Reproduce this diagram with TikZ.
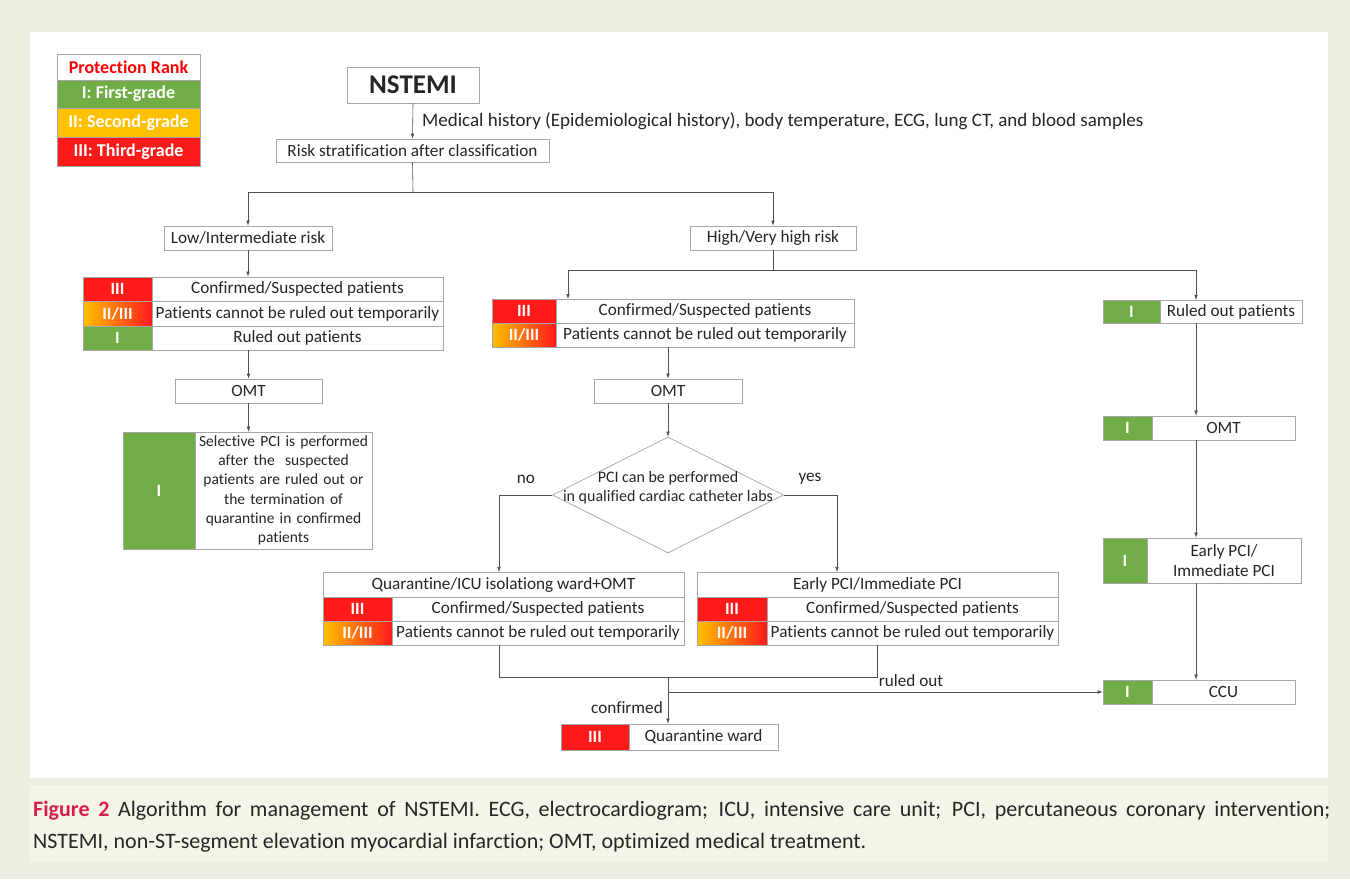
\documentclass[tikz,border=0pt]{standalone}
\usepackage{fontspec}
\setmainfont{Carlito}[Ligatures=NoCommon]
\usetikzlibrary{arrows.meta,shapes.geometric,calc}
\definecolor{bg}{HTML}{EEEDE1}
\definecolor{capbg}{HTML}{F5F4E9}
\definecolor{gr}{HTML}{70AD47}
\definecolor{rd}{HTML}{FF1A1A}
\definecolor{yl}{HTML}{FFC000}
\definecolor{bd}{HTML}{A6A6A6}
\definecolor{ln}{HTML}{505050}
\definecolor{txt}{HTML}{262626}
\definecolor{figred}{HTML}{D81E4B}
\newcommand{\fs}{\fontsize{17.2}{20}\selectfont}
\begin{document}
\begin{tikzpicture}[x=1pt,y=-1pt,
  box/.style={draw=bd, line width=0.7pt, fill=white, inner sep=1pt, font=\fs, text=txt, align=center},
  colc/.style={box, text=white, font=\fs\bfseries},
  gcell/.style={colc, fill=gr},
  rcell/.style={colc, fill=rd},
  ocell/.style={colc, left color=yl, right color=rd},
  leg/.style={draw=bd, line width=0.7pt, minimum width=143pt, inner sep=0pt, text=white, font=\fontsize{18}{20}\selectfont\bfseries},
  arr/.style={draw=ln, line width=0.6pt, -{Latex[length=5pt,width=3.6pt]}},
  lin/.style={draw=ln, line width=0.6pt},
  lab/.style={font=\fs, text=txt, inner sep=1pt}]
\useasboundingbox (0,0) rectangle (1350,879);
\fill[bg] (0,0) rectangle (1350,879);
\fill[white] (30,32) rectangle (1328,778);
\fill[capbg] (30,785) rectangle (1328,862);

% legend
\node[leg, fill=white, minimum height=26pt, text=red] (leg0) at (128.5,67) {Protection Rank};
\node[leg, fill=gr, minimum height=28pt] (leg1) at (128.5,94) {I: First-grade};
\node[leg, fill=yl, minimum height=29pt] (leg2) at (128.5,122.5) {II: Second-grade};
\node[leg, fill=rd, minimum height=29pt] (leg3) at (128.5,151.5) {III: Third-grade};

% top
\node[box, minimum width=132pt, minimum height=36pt, font=\fontsize{27}{30}\selectfont\bfseries] (nst) at (413,85) {NSTEMI};
\node[box, minimum width=273pt, minimum height=23pt] (risk) at (412.5,150.5) {Risk stratification after classification};
\node[lab, anchor=west, font=\fontsize{19}{22}\selectfont] (med) at (421,121) {Medical history (Epidemiological history), body temperature, ECG, lung CT, and blood samples};

\node[box, minimum width=168pt, minimum height=24pt] (low) at (248,238) {Low/Intermediate risk};
\node[box, minimum width=166pt, minimum height=24pt] (high) at (773,238) {High/Very high risk};

% left table
\node[rcell, minimum width=69pt, minimum height=24pt] (lt1c) at (117.5,289) {III};
\node[box, minimum width=291pt, minimum height=24pt] (lt1t) at (297.5,289) {Confirmed/Suspected patients};
\node[ocell, minimum width=69pt, minimum height=25pt] (lt2c) at (117.5,313.5) {II/III};
\node[box, minimum width=291pt, minimum height=25pt] (lt2t) at (297.5,313.5) {Patients cannot be ruled out temporarily};
\node[gcell, minimum width=69pt, minimum height=24pt] (lt3c) at (117.5,338) {I};
\node[box, minimum width=291pt, minimum height=24pt] (lt3t) at (297.5,338) {Ruled out patients};

\node[box, minimum width=147pt, minimum height=24pt] (omtl) at (248.5,391) {OMT};
\node[gcell, minimum width=72pt, minimum height=117pt] (selc) at (159,490.5) {I};
\node[box, minimum width=177pt, minimum height=117pt, text width=172pt, font=\fontsize{15.5}{19.3}\selectfont] (selt) at (283.5,490.5) {Selective PCI is performed\\after the \ suspected\\patients are ruled out or\\the termination of\\quarantine in confirmed\\patients};

% middle table
\node[rcell, minimum width=64pt, minimum height=24pt] (mt1c) at (524,311) {III};
\node[box, minimum width=298pt, minimum height=24pt] (mt1t) at (705,311) {Confirmed/Suspected patients};
\node[ocell, minimum width=64pt, minimum height=24pt] (mt2c) at (524,335) {II/III};
\node[box, minimum width=298pt, minimum height=24pt] (mt2t) at (705,335) {Patients cannot be ruled out temporarily};

\node[box, minimum width=148pt, minimum height=24pt] (omtm) at (668,391) {OMT};
\node[diamond, draw=bd, line width=0.7pt, fill=white, minimum width=231pt, minimum height=116pt, inner sep=0pt] (dia) at (668,495) {};
\node[lab, align=center, font=\fontsize{16}{19}\selectfont] (diat) at (668,488) {PCI can be performed\\in qualified cardiac catheter labs};
\node[lab] (no) at (526,479) {no};
\node[lab] (yes) at (810,479) {yes};

% lower left table
\node[box, minimum width=361pt, minimum height=25pt] (llh) at (503.5,584.5) {Quarantine/ICU isolationg ward+OMT};
\node[rcell, minimum width=69pt, minimum height=24pt] (ll1c) at (357.5,609) {III};
\node[box, minimum width=292pt, minimum height=24pt] (ll1t) at (538,609) {Confirmed/Suspected patients};
\node[ocell, minimum width=69pt, minimum height=24pt] (ll2c) at (357.5,633) {II/III};
\node[box, minimum width=292pt, minimum height=24pt] (ll2t) at (538,633) {Patients cannot be ruled out temporarily};

% lower right table
\node[box, minimum width=361pt, minimum height=25pt] (rlh) at (877.5,584.5) {Early PCI/Immediate PCI};
\node[rcell, minimum width=70pt, minimum height=24pt] (rl1c) at (732,609) {III};
\node[box, minimum width=291pt, minimum height=24pt] (rl1t) at (912.5,609) {Confirmed/Suspected patients};
\node[ocell, minimum width=70pt, minimum height=24pt] (rl2c) at (732,633) {II/III};
\node[box, minimum width=291pt, minimum height=24pt] (rl2t) at (912.5,633) {Patients cannot be ruled out temporarily};

% quarantine ward
\node[rcell, minimum width=68pt, minimum height=26pt] (qwc) at (595,737) {III};
\node[box, minimum width=149pt, minimum height=26pt] (qwt) at (703.5,737) {Quarantine ward};

% right column
\node[gcell, minimum width=57pt, minimum height=23pt] (roc) at (1131.5,311.5) {I};
\node[box, minimum width=142pt, minimum height=23pt] (rot) at (1231,311.5) {Ruled out patients};
\node[gcell, minimum width=49pt, minimum height=24pt] (omrc) at (1127.5,428) {I};
\node[box, minimum width=143pt, minimum height=24pt] (omrt) at (1223.5,428) {OMT};
\node[gcell, minimum width=44pt, minimum height=45pt] (epc) at (1125,560.5) {I};
\node[box, minimum width=154pt, minimum height=45pt] (ept) at (1224,560.5) {Early PCI/\\Immediate PCI};
\node[gcell, minimum width=49pt, minimum height=24pt] (ccuc) at (1127.5,692) {I};
\node[box, minimum width=143pt, minimum height=24pt] (ccut) at (1223.5,692) {CCU};

% junction coordinates
\coordinate (j1) at (413,192);
\coordinate (j2) at (773,270);
\coordinate (mtin) at (568,299);
\coordinate (rin) at (1196,300);
\coordinate (llin) at (499,572);
\coordinate (rlin) at (837,572);
\coordinate (llout) at (499,645);
\coordinate (rlout) at (877,645);
\coordinate (j3) at (668,677);
\coordinate (j4) at (668,692);

% connectors
\draw[arr] (nst.south) -- (risk.north);
\draw[lin] (risk.south) -- (j1);
\draw[arr] (j1) -| (low.north);
\draw[arr] (j1) -| (high.north);
\draw[arr] (low.south) -- (low.south |- lt1t.north);
\draw[arr] (omtl.north |- lt3t.south) -- (omtl.north);
\draw[arr] (omtl.south) -- (omtl.south |- selt.north);

\draw[lin] (high.south) -- (j2);
\draw[arr] (j2) -| (mtin);
\draw[arr] (j2) -| (rin);
\draw[arr] (omtm.north |- mt2t.south) -- (omtm.north);
\draw[arr] (omtm.south) -- (dia.north);
\draw[arr] (dia.west) -| (llin);
\draw[arr] (dia.east) -| (rlin);

\draw[lin] (llout) |- (j3) -| (rlout);
\draw[arr] (j3) -- (j3 |- qwt.north);
\draw[arr] (j3) -- (j4) -- (ccuc.west |- j4);
\node[lab, anchor=east] (conf) at (664,708) {confirmed};
\node[lab] (ro) at (911,681) {ruled out};

\draw[arr] (rin |- rot.south) -- (rin |- omrt.north);
\draw[arr] (rin |- omrt.south) -- (rin |- ept.north);
\draw[arr] (rin |- ept.south) -- (rin |- ccut.north);

% caption
\node[anchor=north west, inner sep=0pt, text width=1297pt, align=justify, text=txt, font=\fontsize{22}{32}\selectfont] (cap) at (33,801) {\textcolor{figred}{\textbf{Figure 2}} Algorithm for management of NSTEMI. ECG, electrocardiogram; ICU, intensive care unit; PCI, percutaneous coronary intervention;\linebreak NSTEMI, non-ST-segment elevation myocardial infarction; OMT, optimized medical treatment.};
\end{tikzpicture}
\end{document}
